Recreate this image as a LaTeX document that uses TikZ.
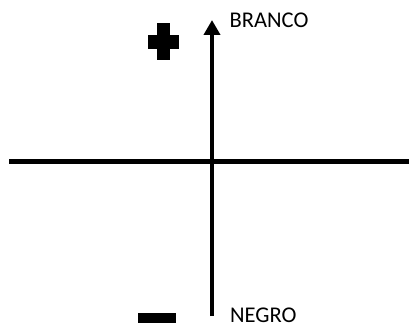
\documentclass[tikz,border=0pt]{standalone}
\usepackage{fontspec}
\setmainfont{Carlito}
\usepackage{tikz}
\usetikzlibrary{
	arrows.meta,
	positioning
}
\usepackage{xcolor}

\tikzset{
	axis/.style={line width=4.5pt},
	sign/.style={fill=black,draw=none,inner sep=0pt},
	tag/.style={anchor=base west,inner sep=0pt,font=\fontsize{22.5}{27}\selectfont}
}

\begin{document}
\begin{tikzpicture}[>={Triangle[length=15pt,width=16pt]},x=1pt,y=1pt]
		
		\useasboundingbox (0,0) rectangle (409,327);
		
		% Axes
		\coordinate (left) at (9,165.5);
		\coordinate (right) at (409,165.5);
		\coordinate (bottom) at (212,11);
		\coordinate (top) at (212,307);
		
		\draw[axis] (left) -- (right);
		\draw[axis,->] (bottom) -- (top);
		
		% Labels
		\node[tag] (branco) at (229.5,299.7) {BRANCO};
		\node[tag] (negro) at (230,4.5) {NEGRO};
		
		% Signs
		\node[sign,minimum width=13pt,minimum height=37pt] (plusv) at (163,285) {};
		\node[sign,minimum width=31pt,minimum height=14pt] (plush) at (plusv) {};
		\node[sign,minimum width=38pt,minimum height=10pt] (minus) at (157,9) {};
		
	\end{tikzpicture}
\end{document}
